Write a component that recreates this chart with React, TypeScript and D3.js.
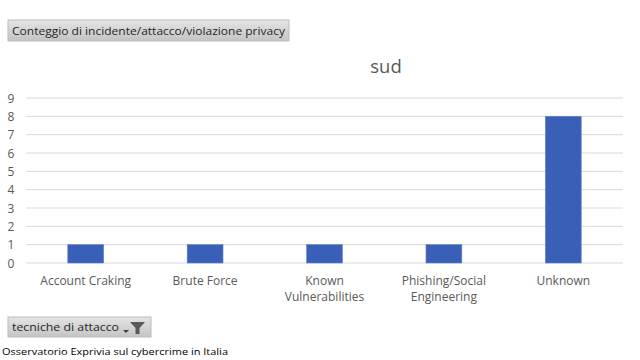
import React from "react";
import * as d3 from "d3";

const categories: string[][] = [
  ["Account Craking"],
  ["Brute Force"],
  ["Known", "Vulnerabilities"],
  ["Phishing/Social", "Engineering"],
  ["Unknown"],
];
const values: number[] = [1, 1, 1, 1, 8];
const yTicks: number[] = [0, 1, 2, 3, 4, 5, 6, 7, 8, 9];
const title = "sud";
const headerLabel = "Conteggio di incidente/attacco/violazione privacy";
const filterLabel = "tecniche di attacco";
const sourceLabel = "Osservatorio Exprivia sul cybercrime in Italia";

const W = 640;
const H = 360;
const FONT = "'Open Sans', 'Liberation Sans', sans-serif";

export default function App() {
  const keys = categories.map((c) => c.join(" "));
  const x = d3.scaleBand<string>().domain(keys).range([26, 623]).paddingInner(0.7).paddingOuter(0.35);
  const y = d3.scaleLinear().domain([0, 9]).range([263, 98]);

  return (
    <svg width={W} height={H} style={{ position: "absolute", left: 0, top: 0, background: "#fff" }}>
      <defs>
        <linearGradient id="btn" x1="0" y1="0" x2="0" y2="1">
          <stop offset="0" stopColor="#e4e4e4" />
          <stop offset="1" stopColor="#c4c4c4" />
        </linearGradient>
      </defs>
      <rect width={W} height={H} fill="#fff" />
      <rect x={8} y={20} width={281} height={21} fill="url(#btn)" stroke="#bdbdbd" />
      <text x={12} y={35} fontFamily={FONT} fontSize={11.5} fill="#262626" textLength={273} lengthAdjust="spacingAndGlyphs">
        {headerLabel}
      </text>
      <text x={386} y={73} textAnchor="middle" fontFamily={FONT} fontSize={18.5} fill="#595959">
        {title}
      </text>
      {yTicks.map((t) => (
        <line key={t} x1={26} x2={623} y1={y(t)} y2={y(t)} stroke="#d9d9d9" strokeWidth={1} />
      ))}
      {yTicks.map((t) => (
        <text key={"l" + t} x={11} y={y(t) + 4.5} textAnchor="middle" fontFamily={FONT} fontSize={12} fill="#595959">
          {t}
        </text>
      ))}
      {keys.map((k, i) => (
        <rect
          key={k}
          x={x(k)!}
          y={y(values[i])}
          width={x.bandwidth()}
          height={y(0) - y(values[i])}
          fill="#3a5fb7"
          stroke="#5b7fd0"
          strokeWidth={0.6}
        />
      ))}
      {categories.map((c, i) => (
        <text key={"x" + i} textAnchor="middle" fontFamily={FONT} fontSize={12} fill="#595959">
          {c.map((line, j) => (
            <tspan key={j} x={x(keys[i])! + x.bandwidth() / 2} y={285 + j * 16}>
              {line}
            </tspan>
          ))}
        </text>
      ))}
      <rect x={8} y={317} width={143} height={20} fill="url(#btn)" stroke="#bdbdbd" />
      <text x={12} y={331} fontFamily={FONT} fontSize={11.5} fill="#262626" textLength={107} lengthAdjust="spacingAndGlyphs">
        {filterLabel}
      </text>
      <path d="M123,330 h6 l-3,3 z" fill="#404040" />
      <path d="M130,322 h15 l-5.5,6 v6 h-4 v-6 z" fill="#595959" />
      <text x={2} y={355} fontFamily={FONT} fontSize={9.5} fill="#000" textLength={226} lengthAdjust="spacingAndGlyphs">
        {sourceLabel}
      </text>
    </svg>
  );
}
